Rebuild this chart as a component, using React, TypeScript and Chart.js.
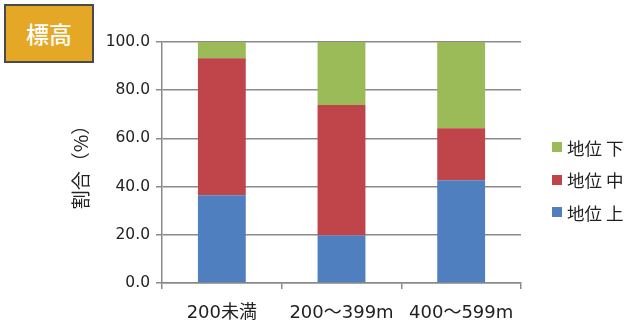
import React, { useEffect, useRef } from "react";
import { Chart, registerables } from "chart.js";

Chart.register(...registerables);

const categories = ["200未満", "200～399m", "400～599m"];
const seriesNames = ["地位 上", "地位 中", "地位 下"];
const upperValues = [36.4, 19.7, 42.6];
const middleValues = [56.9, 54.2, 21.6];
const lowerValues = [6.7, 26.1, 35.8];
const seriesColors = ["#4F7FBE", "#C0454B", "#9BBB59"];
const yTickValues = [0, 20, 40, 60, 80, 100];
const titleText = "標高";
const yTitle = "割合（%）";

const FONT = "'Noto Sans CJK JP', 'DejaVu Sans', sans-serif";
const NUM_FONT = "'DejaVu Sans', 'Noto Sans CJK JP', sans-serif";

export default function App() {
  const ref = useRef<HTMLCanvasElement | null>(null);

  useEffect(() => {
    if (!ref.current) return;
    const seriesValues = [upperValues, middleValues, lowerValues];
    const chart = new Chart(ref.current, {
      type: "bar",
      data: {
        labels: categories,
        datasets: seriesNames.map((name, i) => ({
          label: name,
          data: seriesValues[i],
          backgroundColor: seriesColors[i],
          borderWidth: 0,
          barPercentage: 0.4,
          categoryPercentage: 1,
        })),
      },
      options: {
        animation: false,
        responsive: false,
        maintainAspectRatio: false,
        layout: { padding: { top: 42, right: 108, left: 0, bottom: 0 } },
        plugins: { legend: { display: false }, tooltip: { enabled: false } },
        scales: {
          x: {
            stacked: true,
            grid: {
              display: true,
              drawOnChartArea: false,
              drawTicks: true,
              tickLength: 6,
              offset: true,
              color: "#8a8a8a",
              lineWidth: 1.5,
            },
            border: { display: true, color: "#8a8a8a", width: 1.5 },
            ticks: {
              color: "#222",
              padding: 14,
              font: { family: NUM_FONT, size: 18 },
              maxRotation: 0,
            },
            afterFit: (s: any) => {
              s.height = 41;
            },
          },
          y: {
            stacked: true,
            min: 0,
            max: 100,
            afterBuildTicks: (s: any) => {
              s.ticks = yTickValues.map((v) => ({ value: v }));
            },
            grid: {
              color: "#8a8a8a",
              lineWidth: 1.5,
              tickLength: 6,
            },
            border: { display: true, color: "#8a8a8a", width: 1.5 },
            ticks: {
              color: "#222",
              padding: 6,
              font: { family: NUM_FONT, size: 15.5 },
              callback: (v: any) => Number(v).toFixed(1),
            },
            title: {
              display: true,
              text: yTitle,
              color: "#222",
              font: { family: FONT, size: 19 },
              padding: { top: 69, bottom: 0 },
            },
            afterFit: (s: any) => {
              s.width = 162;
            },
          },
        },
      },
    });
    return () => chart.destroy();
  }, []);

  const legendOrder = [2, 1, 0];

  return (
    <div style={{ position: "absolute", left: 0, top: 0, width: 629, height: 324, background: "#fff", fontFamily: FONT }}>
      <canvas ref={ref} width={629} height={324} style={{ position: "absolute", left: 0, top: 0 }} />
      <div
        style={{
          position: "absolute",
          left: 4,
          top: 4,
          width: 86,
          height: 55,
          background: "#E4A826",
          border: "2px solid #4a4a4a",
          color: "#fff",
          fontSize: 23,
          fontWeight: 500,
          display: "flex",
          alignItems: "center",
          justifyContent: "center",
          lineHeight: 1,
        }}
      >
        {titleText}
      </div>
      {legendOrder.map((idx, row) => (
        <div
          key={idx}
          style={{
            position: "absolute",
            left: 552,
            top: 147 + row * 32.5 - 12,
            height: 24,
            display: "flex",
            alignItems: "center",
            fontSize: 17.5,
            color: "#222",
            whiteSpace: "pre",
          }}
        >
          <span style={{ display: "inline-block", width: 10, height: 10, background: seriesColors[idx], marginRight: 5 }} />
          <span>{seriesNames[idx]}</span>
        </div>
      ))}
    </div>
  );
}
